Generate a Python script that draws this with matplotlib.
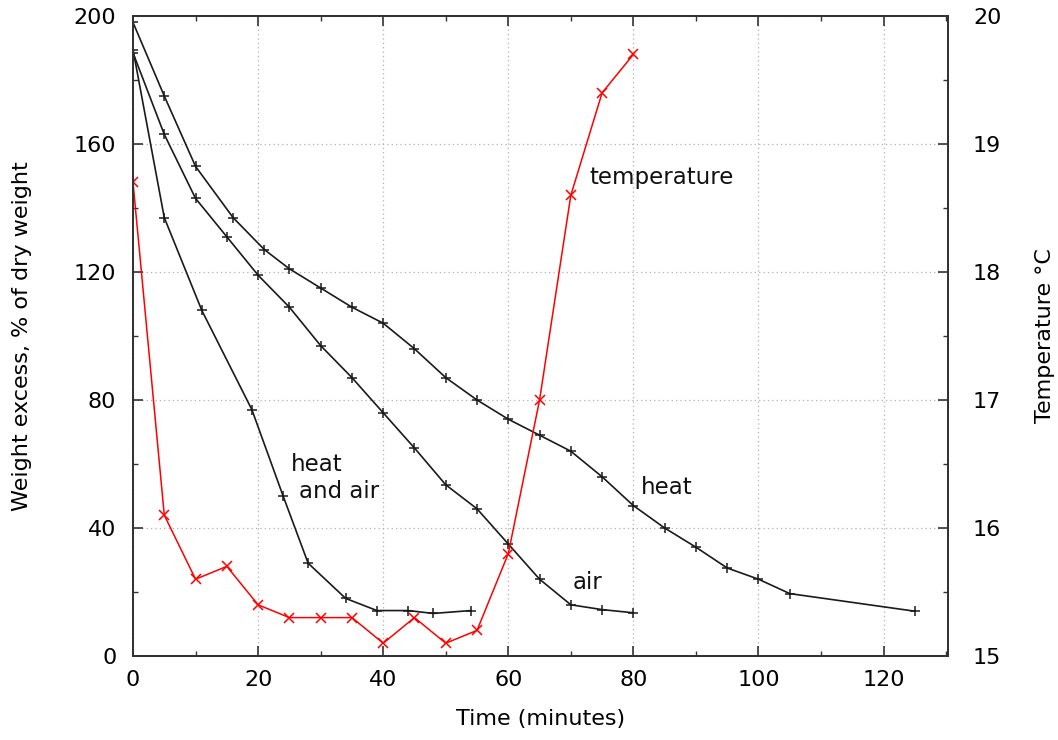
import matplotlib
matplotlib.use("Agg")
import matplotlib.pyplot as plt
from matplotlib.ticker import MultipleLocator

# ---- data ----
heat_t = [0, 5, 10, 16, 21, 25, 30, 35, 40, 45, 50, 55, 60, 65, 70, 75, 80, 85, 90, 95, 100, 105, 125]
heat_w = [198, 175, 153, 137, 127, 121, 115, 109, 104, 96, 87, 80, 74, 69, 64, 56, 47, 40, 34, 27.5, 24, 19.5, 14]

air_t = [0, 5, 10, 15, 20, 25, 30, 35, 40, 45, 50, 55, 60, 65, 70, 75, 80]
air_w = [188.5, 163, 143, 131, 119, 109, 97, 87, 76, 65, 53.5, 46, 35, 24, 16, 14.5, 13.5]

ha_t = [0, 5, 11, 19, 24, 28, 34, 39, 44, 48, 54]
ha_w = [189.5, 137, 108, 77, 50, 29, 18, 14.2, 14.2, 13.3, 14.2]

temp_t = [0, 5, 10, 15, 20, 25, 30, 35, 40, 45, 50, 55, 60, 65, 70, 75, 80]
temp_c = [18.7, 16.1, 15.6, 15.7, 15.4, 15.3, 15.3, 15.3, 15.1, 15.3, 15.1, 15.2, 15.8, 17.0, 18.6, 19.4, 19.7]

x_ticks = [0, 20, 40, 60, 80, 100, 120]
y_ticks = [0, 40, 80, 120, 160, 200]
t_ticks = [15, 16, 17, 18, 19, 20]

plt.rcParams['font.family'] = ['DejaVu Sans']
FS = 16

W, H = 1058, 740
fig = plt.figure(figsize=(W / 100, H / 100), dpi=100)
L, R, T, B = 133, 948, 16, 656
ax = fig.add_axes([L / W, 1 - B / H, (R - L) / W, (B - T) / H])
ax2 = ax.twinx()

line_kw = dict(color='#1a1a1a', lw=1.2, marker='+', ms=7, mew=1.1)
ax.plot(heat_t, heat_w, **line_kw)
ax.plot(air_t, air_w, **line_kw)
ax.plot(ha_t, ha_w, **line_kw)
ax2.plot(temp_t, temp_c, color='#ff0000', lw=1.1, marker='x', ms=7, mew=1.1)

ax.set_xlim(0, 130.3)
ax.set_ylim(0, 200)
ax2.set_ylim(15, 20)

ax.set_xticks(x_ticks)
ax.set_yticks(y_ticks)
ax2.set_yticks(t_ticks)
ax.xaxis.set_minor_locator(MultipleLocator(10))
ax.yaxis.set_minor_locator(MultipleLocator(20))
ax2.yaxis.set_minor_locator(MultipleLocator(0.5))

ax.tick_params(axis='x', which='both', direction='in', top=True, bottom=True, labelsize=FS, pad=10)
ax.tick_params(axis='y', which='both', direction='in', left=True, right=False, labelsize=FS, pad=12)
ax2.tick_params(axis='y', which='both', direction='in', labelsize=FS, pad=18)
for a in (ax, ax2):
    a.tick_params(which='major', length=7, width=1.2, color='#333333')
    a.tick_params(which='minor', length=3.5, width=1.0, color='#333333')
    for s in a.spines.values():
        s.set_linewidth(1.4)
        s.set_color('#333333')

ax.grid(True, which='major', color='#b0b0b0', linestyle=(0, (1, 2.5)), lw=0.9)
ax.set_axisbelow(True)

ax.set_xlabel('Time (minutes)', fontsize=FS, labelpad=14)
ax.set_ylabel('Weight excess, % of dry weight', fontsize=FS, labelpad=30)
ax2.set_ylabel('Temperature °C', fontsize=FS, labelpad=24)

tkw = dict(fontsize=FS + 0.5, ha='left', va='center', color='#111111')
ax.text(25.2, 59.7, 'heat', **tkw)
ax.text(26.5, 51.3, 'and air', **tkw)
ax.text(81.2, 52.8, 'heat', **tkw)
ax.text(70.3, 23.1, 'air', **tkw)
ax.text(73.0, 149.4, 'temperature', **tkw)

fig.savefig('out.png', dpi=100)
